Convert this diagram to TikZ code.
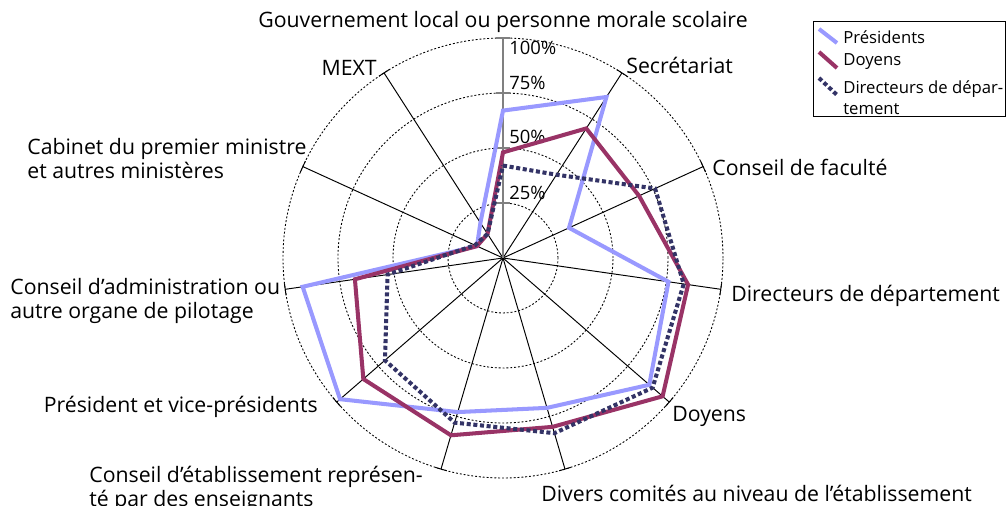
\documentclass[tikz,border=0pt]{standalone}
\usepackage{fontspec}
\setmainfont{Open Sans}
\definecolor{presid}{HTML}{9999FF}
\definecolor{doyen}{HTML}{993366}
\definecolor{direct}{HTML}{333366}
\tikzset{
  axe/.style={black, line width=0.55pt},
  cercle/.style={black, line width=0.5pt, dash pattern=on 1.1pt off 1.1pt},
  courbe/.style={line width=2.3pt, line join=miter},
  pointille/.style={line width=2.3pt, dash pattern=on 2.3pt off 1.5pt},
  lab/.style={font=\fontsize{12.1}{13.8}\selectfont, align=left, inner sep=0pt},
  pct/.style={font=\fontsize{10.5}{12}\selectfont, inner sep=0pt},
  petit/.style={font=\fontsize{9.5}{12}\selectfont, align=left, inner sep=0pt}
}
\begin{document}
\begin{tikzpicture}[x=0.02cm, y=0.02cm]
\useasboundingbox (-503,-248) rectangle (505,258);
% cercles 25 % a 100 %
\foreach \r in {55,110,165,220}
  \draw[cercle] (0,0) circle (\r);
% axes
\foreach \k in {1,...,10} {
  \draw[axe] (0,0) -- ({90-\k*360/11}:220);
  \draw[axe] ({90-\k*360/11}:220) ++({-\k*360/11}:6) -- ++({180-\k*360/11}:12);
}
\draw[gray, line width=1.1pt] (0,0) -- (0,220);
\foreach \r in {55,110,165,220}
  \draw[gray, line width=1.1pt] (-7,\r) -- (7,\r);
\node[pct, anchor=west] (p100) at (6,210) {100\%};
\node[pct, anchor=west] (p75) at (6,175) {75\%};
\node[pct, anchor=west] (p50) at (6,121) {50\%};
\node[pct, anchor=west] (p25) at (6,65) {25\%};
% series
\foreach \v [count=\k from 0] in {67,87,33,76,88,71,73,98,92,13,19}
  \coordinate (P\k) at ({90-\k*360/11}:{\v*2.2});
\foreach \v [count=\k from 0] in {48,70,68,85,96,80,84,84,68,13,13}
  \coordinate (D\k) at ({90-\k*360/11}:{\v*2.2});
\foreach \v [count=\k from 0] in {42,45,76,83,90,83,78,71,53,14,13}
  \coordinate (R\k) at ({90-\k*360/11}:{\v*2.2});
\draw[courbe, presid] (P0) \foreach \k in {1,...,10} {-- (P\k)} -- cycle;
\draw[courbe, doyen] (D0) \foreach \k in {1,...,10} {-- (D\k)} -- cycle;
\draw[pointille, direct] (R0) \foreach \k in {1,...,10} {-- (R\k)} -- cycle;
% libelles
\node[lab] (gouv) at (0,236) {Gouvernement local ou personne morale scolaire};
\node[lab, anchor=west] (secr) at (123,193) {Secrétariat};
\node[lab, anchor=west] (cfac) at (209,91) {Conseil de faculté};
\node[lab, anchor=west] (ddep) at (228,-38) {Directeurs de département};
\node[lab, anchor=west] (doy) at (169,-158) {Doyens};
\node[lab, anchor=west] (div) at (38,-235) {Divers comités au niveau de l’établissement};
\node[lab, anchor=west] (cetab) at (-414,-231) {Conseil d’établissement représen-\\té par des enseignants};
\node[lab, anchor=east] (pres) at (-185,-149) {Président et vice-présidents};
\node[lab, anchor=west] (cadm) at (-493,-43) {Conseil d’administration ou\\autre organe de pilotage};
\node[lab, anchor=west] (cab) at (-476,99.5) {Cabinet du premier ministre\\et autres ministères};
\node[lab, anchor=east] (mext) at (-126,190) {MEXT};
% legende
\draw[black, line width=0.5pt] (310,237) rectangle (502,142);
\draw[courbe, presid] (316,229) -- (334,215);
\draw[courbe, doyen] (316,206) -- (334,190);
\draw[pointille, direct] (316,180) -- (334,163);
\node[petit, anchor=west] (lpres) at (340,221) {Présidents};
\node[petit, anchor=west] (ldoy) at (340,196) {Doyens};
\node[petit, anchor=west] (ldir) at (340,160.5) {Directeurs de dépar-\\tement};
\end{tikzpicture}
\end{document}
